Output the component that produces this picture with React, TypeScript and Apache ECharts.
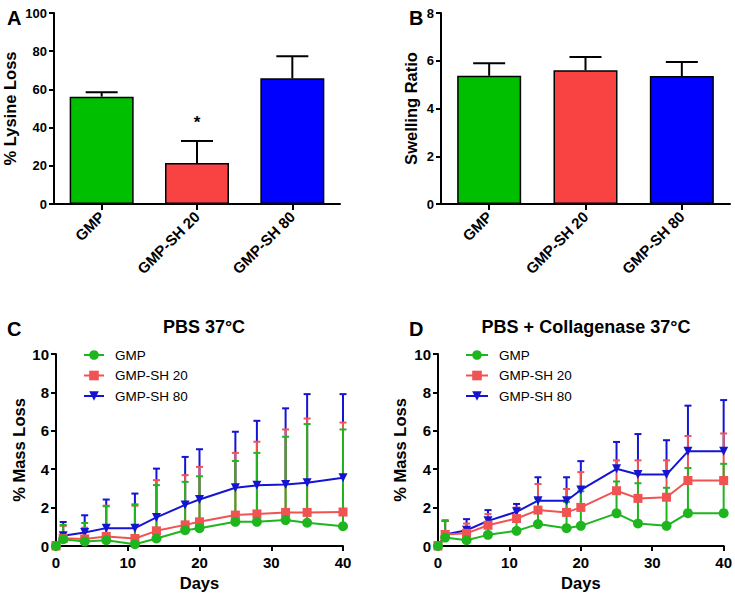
import React, { useEffect, useRef } from "react";
import * as echarts from "echarts";

// ---------- Data ----------
const barCategories = ["GMP", "GMP-SH 20", "GMP-SH 80"];
const lysineLoss = [56.2, 21.5, 65.8];
const lysineLossSD = [2.3, 11.5, 11.5];
const lysineSignificance = ["", "*", ""];
const swellingRatio = [5.37, 5.6, 5.36];
const swellingRatioSD = [0.53, 0.56, 0.59];

const days = [0, 1, 4, 7, 11, 14, 18, 20, 25, 28, 32, 35, 40];

// PBS 37°C
const pbsGMP = [0, 0.35, 0.23, 0.3, 0.09, 0.39, 0.82, 0.93, 1.26, 1.26, 1.35, 1.21, 1.03];
const pbsGMPSD = [0, 0.75, 0.97, 1.77, 2.08, 2.78, 2.52, 2.7, 3.17, 3.59, 4.34, 5.14, 5.04];
const pbsSH20 = [0, 0.4, 0.37, 0.5, 0.39, 0.79, 1.1, 1.26, 1.61, 1.67, 1.75, 1.75, 1.77];
const pbsSH20SD = [0, 0.65, 0.58, 1.6, 1.71, 2.64, 2.59, 2.86, 3.24, 3.76, 4.32, 4.89, 4.66];
const pbsSH80 = [0, 0.53, 0.7, 0.93, 0.93, 1.49, 2.14, 2.42, 3.03, 3.16, 3.2, 3.3, 3.55];
const pbsSH80SD = [0, 0.72, 0.9, 1.49, 1.8, 2.54, 2.5, 2.62, 2.92, 3.36, 3.97, 4.61, 4.36];

// PBS + Collagenase 37°C
const colGMP = [0, 0.44, 0.3, 0.58, 0.79, 1.14, 0.93, 1.05, 1.7, 1.17, 1.05, 1.71, 1.71];
const colGMPSD = [0, 0.86, 0.55, 0.62, 0.51, 1.31, 1.37, 1.8, 1.66, 2.1, 1.98, 2.35, 2.57];
const colSH20 = [0, 0.6, 0.66, 1.08, 1.43, 1.87, 1.75, 2.01, 2.88, 2.48, 2.54, 3.41, 3.41];
const colSH20SD = [0, 0.75, 0.51, 0.58, 0.57, 1.36, 1.22, 1.84, 1.58, 1.98, 1.92, 2.32, 2.45];
const colSH80 = [0, 0.6, 0.82, 1.31, 1.78, 2.36, 2.36, 2.92, 4.02, 3.72, 3.72, 4.93, 4.93];
const colSH80SD = [0, 0.7, 0.58, 0.56, 0.41, 1.22, 1.22, 1.5, 1.4, 2.11, 1.79, 2.38, 2.67];

const barColors = ["#00bf00", "#f94343", "#0000ff"];
const lineColors = ["#1fb51f", "#f15252", "#1414d2"];
const seriesNames = ["GMP", "GMP-SH 20", "GMP-SH 80"];
const symbols = ["circle", "rect", "triangle"];
const symbolSizes = [10, 9, 9];
const symbolRotates = [0, 0, 180];

const FONT = "'Liberation Sans', Arial, Helvetica, sans-serif";

function errorRenderer(color: string, halfCap: number, sig?: string[]) {
  return (params: any, api: any) => {
    const x = api.value(0);
    const y = api.value(1);
    const sd = api.value(2);
    const p0 = api.coord([x, y]);
    const p1 = api.coord([x, y + sd]);
    const style = { stroke: color, lineWidth: 2 };
    const children: any[] = [];
    if (sd > 0) {
      children.push({ type: "line", shape: { x1: p0[0], y1: p0[1], x2: p1[0], y2: p1[1] }, style });
      children.push({ type: "line", shape: { x1: p1[0] - halfCap, y1: p1[1], x2: p1[0] + halfCap, y2: p1[1] }, style });
    }
    if (sig && sig[params.dataIndex]) {
      children.push({
        type: "text",
        x: p1[0],
        y: p1[1] - 18,
        style: {
          text: sig[params.dataIndex],
          fill: "#000",
          font: `bold 17px ${FONT}`,
          align: "center",
          verticalAlign: "middle",
        },
      });
    }
    return { type: "group", children };
  };
}

const axisLineStyle = { show: true, lineStyle: { color: "#000", width: 2 } };
const axisTickStyle = { show: true, length: 5, lineStyle: { color: "#000", width: 2 } };

function valueYAxis(gridIndex: number, max: number, interval: number, name: string, nameGap: number, labelSize: number) {
  return {
    type: "value",
    gridIndex,
    min: 0,
    max,
    interval,
    name,
    nameLocation: "middle",
    nameGap,
    nameTextStyle: { fontWeight: "bold", fontSize: 16.5, color: "#000", fontFamily: FONT },
    axisLine: axisLineStyle,
    axisTick: axisTickStyle,
    axisLabel: { color: "#000", fontWeight: "bold", fontSize: labelSize, fontFamily: FONT, margin: 7 },
    splitLine: { show: false },
  };
}

function categoryXAxis(gridIndex: number) {
  return {
    type: "category",
    gridIndex,
    data: barCategories,
    axisLine: axisLineStyle,
    axisTick: { ...axisTickStyle, alignWithLabel: true, length: 6 },
    axisLabel: { color: "#000", fontWeight: "bold", fontSize: 15, fontFamily: FONT, rotate: 45, interval: 0, margin: 10 },
  };
}

function daysXAxis(gridIndex: number) {
  return {
    type: "value",
    gridIndex,
    min: 0,
    max: 40,
    interval: 10,
    name: "Days",
    nameLocation: "middle",
    nameGap: 28,
    nameTextStyle: { fontWeight: "bold", fontSize: 16.5, color: "#000", fontFamily: FONT },
    axisLine: axisLineStyle,
    axisTick: axisTickStyle,
    axisLabel: { color: "#000", fontWeight: "bold", fontSize: 15, fontFamily: FONT, margin: 9 },
    splitLine: { show: false },
  };
}

function lineSeries(axisIndex: number, values: number[][]) {
  return values.map((vals, k) => ({
    type: "line",
    name: seriesNames[k],
    xAxisIndex: axisIndex,
    yAxisIndex: axisIndex,
    data: days.map((d, i) => [d, vals[i]]),
    symbol: symbols[k],
    symbolSize: symbolSizes[k],
    symbolRotate: symbolRotates[k],
    showAllSymbol: true,
    lineStyle: { color: lineColors[k], width: 2 },
    itemStyle: { color: lineColors[k] },
    z: 3 + (2 - k) * 0.1,
  }));
}

function errorSeries(axisIndex: number, values: number[][], sds: number[][]) {
  // drawn blue first, then red, then green on top
  return [2, 1, 0].map((k, order) => ({
    type: "custom",
    name: seriesNames[k] + " SD",
    xAxisIndex: axisIndex,
    yAxisIndex: axisIndex,
    data: days.map((d, i) => [d, values[k][i], sds[k][i]]),
    encode: { x: 0, y: 1 },
    renderItem: errorRenderer(lineColors[k], 3.5),
    z: 2 + order * 0.1,
    silent: true,
  }));
}

function legend(left: number, itemWidth: number) {
  return {
    orient: "vertical",
    left,
    top: 343,
    itemWidth,
    itemHeight: 12,
    itemGap: 6.5,
    data: seriesNames,
    textStyle: { color: "#000", fontSize: 13.5, fontFamily: FONT, padding: [0, 0, 0, 6] },
  };
}

export default function App() {
  const ref = useRef<HTMLDivElement>(null);

  useEffect(() => {
    if (!ref.current) return;
    const chart = echarts.init(ref.current, undefined, { renderer: "svg" });
    const option: any = {
      animation: false,
      backgroundColor: "#fff",
      title: [
        { text: "A", left: 2, top: 3, textStyle: { fontSize: 20, fontWeight: "bold", color: "#000", fontFamily: FONT } },
        { text: "B", left: 404, top: 3, textStyle: { fontSize: 20, fontWeight: "bold", color: "#000", fontFamily: FONT } },
        { text: "C", left: 2, top: 314, textStyle: { fontSize: 20, fontWeight: "bold", color: "#000", fontFamily: FONT } },
        { text: "D", left: 404, top: 314, textStyle: { fontSize: 20, fontWeight: "bold", color: "#000", fontFamily: FONT } },
        { text: "PBS 37°C", left: 199, textAlign: "center", top: 313, textStyle: { fontSize: 18, fontWeight: "bold", color: "#000", fontFamily: FONT } },
        { text: "PBS + Collagenase 37°C", left: 581, textAlign: "center", top: 313, textStyle: { fontSize: 18, fontWeight: "bold", color: "#000", fontFamily: FONT } },
      ],
      legend: [legend(78, 20), legend(460, 22)],
      grid: [
        { left: 53, top: 13, width: 287, height: 191 },
        { left: 441, top: 13, width: 289, height: 191 },
        { left: 56, top: 354, width: 287, height: 192 },
        { left: 438, top: 354, width: 286, height: 192 },
      ],
      xAxis: [categoryXAxis(0), categoryXAxis(1), daysXAxis(2), daysXAxis(3)],
      yAxis: [
        valueYAxis(0, 100, 20, "% Lysine Loss", 36, 13),
        valueYAxis(1, 8, 2, "Swelling Ratio", 22, 13),
        valueYAxis(2, 10, 2, "% Mass Loss", 29, 15),
        valueYAxis(3, 10, 2, "% Mass Loss", 30, 15),
      ],
      series: [
        {
          type: "bar",
          xAxisIndex: 0,
          yAxisIndex: 0,
          barWidth: 64,
          data: lysineLoss.map((v, i) => ({ value: v, itemStyle: { color: barColors[i] } })),
          itemStyle: { borderColor: "#000", borderWidth: 1.5 },
        },
        {
          type: "custom",
          xAxisIndex: 0,
          yAxisIndex: 0,
          data: lysineLoss.map((v, i) => [i, v, lysineLossSD[i]]),
          encode: { x: 0, y: 1 },
          renderItem: errorRenderer("#000", 16, lysineSignificance),
          z: 5,
          silent: true,
        },
        {
          type: "bar",
          xAxisIndex: 1,
          yAxisIndex: 1,
          barWidth: 64,
          data: swellingRatio.map((v, i) => ({ value: v, itemStyle: { color: barColors[i] } })),
          itemStyle: { borderColor: "#000", borderWidth: 1.5 },
        },
        {
          type: "custom",
          xAxisIndex: 1,
          yAxisIndex: 1,
          data: swellingRatio.map((v, i) => [i, v, swellingRatioSD[i]]),
          encode: { x: 0, y: 1 },
          renderItem: errorRenderer("#000", 16),
          z: 5,
          silent: true,
        },
        ...errorSeries(2, [pbsGMP, pbsSH20, pbsSH80], [pbsGMPSD, pbsSH20SD, pbsSH80SD]),
        ...lineSeries(2, [pbsGMP, pbsSH20, pbsSH80]),
        ...errorSeries(3, [colGMP, colSH20, colSH80], [colGMPSD, colSH20SD, colSH80SD]),
        ...lineSeries(3, [colGMP, colSH20, colSH80]),
      ],
    };
    chart.setOption(option);
    return () => chart.dispose();
  }, []);

  return (
    <div
      ref={ref}
      style={{ position: "absolute", left: 0, top: 0, width: 735, height: 594, background: "#fff" }}
    />
  );
}
